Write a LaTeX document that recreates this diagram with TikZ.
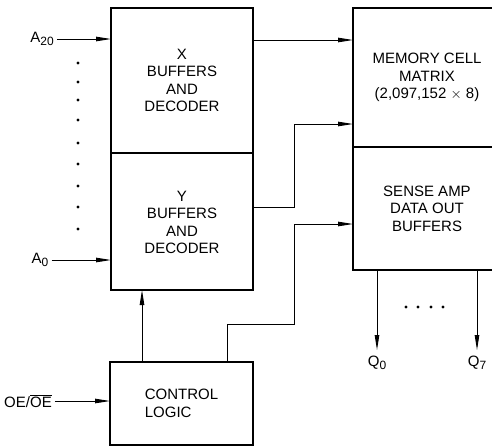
\documentclass[tikz,border=0pt]{standalone}
\usepackage{fontspec}
\setmainfont{Liberation Sans}
\usepackage{tikz}
\usetikzlibrary{arrows.meta, positioning}
\newcommand{\lowsub}[1]{\raisebox{-3pt}{\fontsize{12}{12}\selectfont#1}}
\tikzset{
  block/.style={rectangle, draw=black, line width=2.4pt, outer sep=0pt,
    align=center, font=\fontsize{15}{17.5}\selectfont},
  arrow/.style={-{Triangle[length=15pt, width=4.5pt]}, line width=0.9pt},
  pin/.style={font=\fontsize{15}{17.5}\selectfont, inner sep=3pt},
}
\begin{document}
\begin{tikzpicture}[x=1pt, y=-1pt]
  \clip (0,0) rectangle (492,447);
  \fill[white] (0,0) rectangle (492,447);
  % decoder blocks
  \node[block, anchor=north west, minimum width=142pt, minimum height=145pt]
    (xbox) at (111,8) {X\\BUFFERS\\AND\\DECODER};
  \node[block, below=0pt of xbox, minimum width=142pt, minimum height=137pt]
    (ybox) {\\[-5pt]Y\\BUFFERS\\AND\\DECODER};
  % memory array and outputs
  \node[block, anchor=north west, minimum width=148pt, minimum height=139pt]
    (memory) at (353,8) {MEMORY CELL\\MATRIX\\(2,097,152 $\times$ 8)};
  \node[block, below=0pt of memory, minimum width=148pt, minimum height=123pt]
    (sense) {SENSE AMP\\DATA OUT\\BUFFERS};
  \node[block, anchor=north west, minimum width=143pt, minimum height=83pt,
    align=left] (ctrl) at (110,362) {CONTROL\\LOGIC};

  % pins
  \node[pin] (a20) at (42,39) {A\lowsub{20}};
  \node[pin] (a0) at (40,260) {A\lowsub{0}};
  \node[pin] (oe) at (28,401) {OE/$\overline{\mbox{OE}}$};
  \node[pin] (q0) at (377,363) {Q\lowsub{0}};
  \node[pin] (q7) at (477,363) {Q\lowsub{7}};

  \coordinate (xrow) at (0,40);
  \coordinate (ytap) at (253,207);
  \coordinate (yjog) at (294,124);
  \coordinate (ctap) at (227,362);
  \coordinate (cjog) at (294,324);
  \coordinate (sin) at (353,224);
  \coordinate (cup) at (142,362);

  \draw[arrow] (a20.east) -- (a20 -| xbox.west);
  \draw[arrow] (a0.east) -- (a0 -| ybox.west);
  \draw[arrow] (oe.east) -- (oe -| ctrl.west);
  \draw[arrow] (xbox.east |- xrow) -- (memory.west |- xrow);
  \draw[arrow] (ytap) -| (yjog) -- (yjog -| memory.west);
  \draw[arrow] (ctap) |- (cjog) |- (sin);
  \draw[arrow] (cup) -- (cup |- ybox.south);
  \draw[arrow] (q0 |- sense.south) -- ([yshift=3pt]q0.north);
  \draw[arrow] (q7 |- sense.south) -- ([yshift=3pt]q7.north);

  % dots
  \foreach \y in {63,82,100,120,143,164,186,207,229}
    \fill (78,\y) circle (1.6);
  \foreach \x in {406,418,431,443}
    \fill (\x,307) circle (1.6);
\end{tikzpicture}
\end{document}
